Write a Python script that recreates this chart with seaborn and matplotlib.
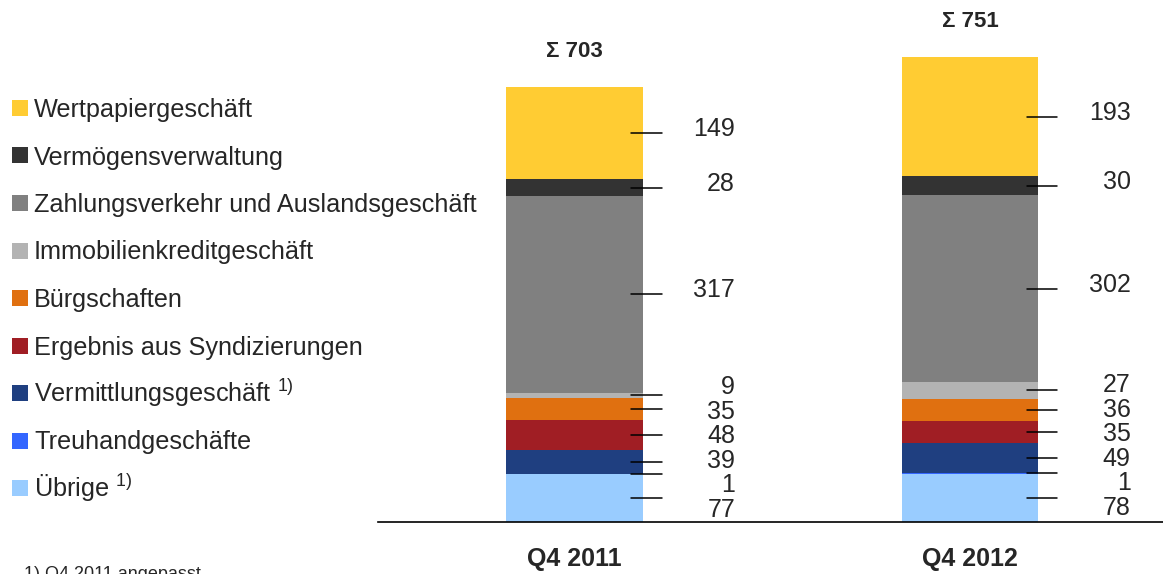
"""
Stacked commission income chart, Q4 2011 vs Q4 2012.
"""

import matplotlib.pyplot as plt
import numpy as np
import seaborn as sns
from matplotlib.patches import Rectangle

quarters = ["Q4 2011", "Q4 2012"]

# stack order, bottom to top
categories = [
    "Übrige $^{\\mathrm{1)}}$",
    "Treuhandgeschäfte",
    "Vermittlungsgeschäft $^{\\mathrm{1)}}$",
    "Ergebnis aus Syndizierungen",
    "Bürgschaften",
    "Immobilienkreditgeschäft",
    "Zahlungsverkehr und Auslandsgeschäft",
    "Vermögensverwaltung",
    "Wertpapiergeschäft",
]
values_2011 = [77, 1, 39, 48, 35, 9, 317, 28, 149]
values_2012 = [78, 1, 49, 35, 36, 27, 302, 30, 193]
colors = ["#99CCFF", "#3366FF", "#1F3F80", "#A01E24", "#E07010",
          "#B3B3B3", "#808080", "#333333", "#FFCC33"]
footnote = "1) Q4 2011 angepasst"

W, H = 1163, 574
BAR_W = 0.346
YMAX = 843
PX = 522 / YMAX  # pixels per unit


def spread(centers, gap):
    pos = list(centers)
    for _ in range(500):
        moved = False
        for i in range(len(pos) - 1):
            d = pos[i + 1] - pos[i]
            if d < gap - 1e-6:
                s = (gap - d) / 2
                pos[i] -= s
                pos[i + 1] += s
                moved = True
        if not moved:
            break
    return pos


sns.set_style("white")
plt.rcParams["font.family"] = ["Liberation Sans", "DejaVu Sans"]
plt.rcParams["mathtext.fontset"] = "custom"
plt.rcParams["mathtext.rm"] = "Liberation Sans"

fig = plt.figure(figsize=(W / 100, H / 100), dpi=100)
ax = fig.add_axes([378 / W, 52 / H, 785 / W, 522 / H])

data = np.array([values_2011, values_2012]).T
bottoms = np.vstack([np.zeros(2), np.cumsum(data, axis=0)[:-1]])

for vals, bot, col in zip(data, bottoms, colors):
    sns.barplot(x=quarters, y=vals, bottom=bot, color=col, width=BAR_W,
                saturation=1, errorbar=None, linewidth=0, ax=ax)

ax.set_xlim(-0.497, 1.488)
ax.set_ylim(0, YMAX)
ax.set_yticks([])
ax.set_ylabel("")
for side in ["left", "right", "top"]:
    ax.spines[side].set_visible(False)
ax.spines["bottom"].set_color("black")
ax.spines["bottom"].set_linewidth(1.2)
ax.tick_params(axis="x", length=0, pad=18)
ax.set_xticks(range(len(quarters)))
ax.set_xticklabels(quarters, fontsize=18, fontweight="bold")

# leader lines and value labels
for i, q in enumerate(quarters):
    vals = data[:, i]
    centers = bottoms[:, i] + vals / 2
    label_y = spread(centers, 24.5 / PX)
    right = i + BAR_W / 2
    for c, ly, v in zip(centers, label_y, vals):
        ax.plot([right - 0.03, right + 0.048], [c, c], color="black", lw=1.1)
        shift = 4 / PX if abs(ly - c) < 1e-6 else -3 / PX
        ax.text(right + 0.233, ly + shift, f"{v}", ha="right", va="center",
                fontsize=18)
    total = vals.sum()
    ax.text(i, total + 35 / PX, f"\u03a3 {total}", ha="center", va="center",
            fontsize=16, fontweight="bold",
            family=["Liberation Sans Narrow", "Liberation Sans"])

# legend, top entry first
for row, (label, col) in enumerate(zip(categories[::-1], colors[::-1])):
    yc = 108 + row * 47.5
    fig.add_artist(Rectangle((12 / W, 1 - (yc + 8) / H), 16 / W, 16 / H,
                             transform=fig.transFigure, facecolor=col,
                             edgecolor="none"))
    fig.text(34 / W, 1 - (yc + 9) / H, label, ha="left", va="baseline",
             fontsize=18.2)

fig.text(24 / W, 1 - 566 / H, footnote, ha="left", va="top", fontsize=13)

fig.savefig("out.png", dpi=100)
